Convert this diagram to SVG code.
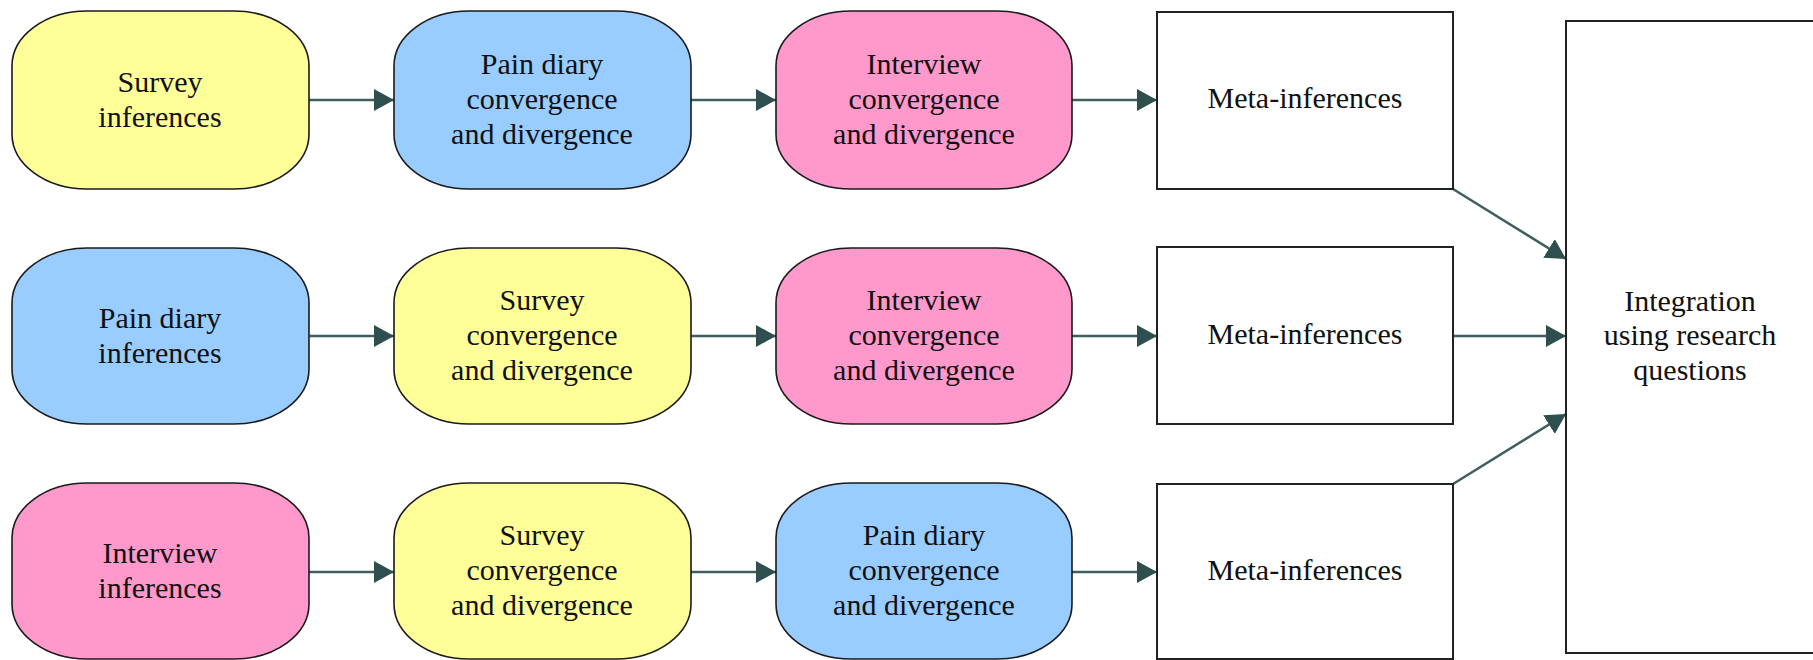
<svg xmlns="http://www.w3.org/2000/svg" width="1813" height="660" viewBox="0 0 1813 660">
<style>
  .rnd { stroke: #1a1a1a; stroke-width: 1.6; }
  .y { fill: #ffff99; }
  .b { fill: #99ccff; }
  .p { fill: #ff99cc; }
  .box { fill: #ffffff; stroke: #222222; stroke-width: 2; }
  .lbl { font-family: "Liberation Serif", "Times New Roman", serif; font-size: 30px; fill: #111111; text-anchor: middle; }
  .con { stroke: #3f5f5f; stroke-width: 2.5; fill: none; marker-end: url(#ah); }
</style>
<defs>
  <marker id="ah" markerUnits="userSpaceOnUse" markerWidth="20" markerHeight="22" refX="20" refY="11" orient="auto">
    <path d="M0,0 L20,11 L0,22 z" fill="#2f4f4f"/>
  </marker>
</defs>
<rect width="1813" height="660" fill="#ffffff"/>

<g id="connectors">
  <line class="con" x1="309" y1="100" x2="394" y2="100"/>
  <line class="con" x1="691" y1="100" x2="776" y2="100"/>
  <line class="con" x1="1072" y1="100" x2="1157" y2="100"/>
  <line class="con" x1="309" y1="336" x2="394" y2="336"/>
  <line class="con" x1="691" y1="336" x2="776" y2="336"/>
  <line class="con" x1="1072" y1="336" x2="1157" y2="336"/>
  <line class="con" x1="309" y1="572" x2="394" y2="572"/>
  <line class="con" x1="691" y1="572" x2="776" y2="572"/>
  <line class="con" x1="1072" y1="572" x2="1157" y2="572"/>
  <line class="con" x1="1453" y1="189" x2="1566" y2="259"/>
  <line class="con" x1="1453" y1="336" x2="1566" y2="336"/>
  <line class="con" x1="1453" y1="484" x2="1566" y2="414"/>
</g>

<g id="survey-inferences">
  <rect class="rnd y" x="12" y="11" width="297" height="178" rx="75" ry="55"/>
  <text class="lbl" x="160" y="92">Survey</text>
  <text class="lbl" x="160" y="127">inferences</text>
</g>
<g id="r1-paindiary">
  <rect class="rnd b" x="394" y="11" width="297" height="178" rx="75" ry="55"/>
  <text class="lbl" x="542" y="74">Pain diary</text>
  <text class="lbl" x="542" y="109">convergence</text>
  <text class="lbl" x="542" y="144">and divergence</text>
</g>
<g id="r1-interview">
  <rect class="rnd p" x="776" y="11" width="296" height="178" rx="75" ry="55"/>
  <text class="lbl" x="924" y="74">Interview</text>
  <text class="lbl" x="924" y="109">convergence</text>
  <text class="lbl" x="924" y="144">and divergence</text>
</g>
<g id="r1-meta">
  <rect class="box" x="1157" y="12" width="296" height="177"/>
  <text class="lbl" x="1305" y="108">Meta-inferences</text>
</g>

<g id="paindiary-inferences">
  <rect class="rnd b" x="12" y="248" width="297" height="176" rx="75" ry="55"/>
  <text class="lbl" x="160" y="328">Pain diary</text>
  <text class="lbl" x="160" y="363">inferences</text>
</g>
<g id="r2-survey">
  <rect class="rnd y" x="394" y="248" width="297" height="176" rx="75" ry="55"/>
  <text class="lbl" x="542" y="310">Survey</text>
  <text class="lbl" x="542" y="345">convergence</text>
  <text class="lbl" x="542" y="380">and divergence</text>
</g>
<g id="r2-interview">
  <rect class="rnd p" x="776" y="248" width="296" height="176" rx="75" ry="55"/>
  <text class="lbl" x="924" y="310">Interview</text>
  <text class="lbl" x="924" y="345">convergence</text>
  <text class="lbl" x="924" y="380">and divergence</text>
</g>
<g id="r2-meta">
  <rect class="box" x="1157" y="247" width="296" height="177"/>
  <text class="lbl" x="1305" y="344">Meta-inferences</text>
</g>

<g id="interview-inferences">
  <rect class="rnd p" x="12" y="483" width="297" height="176" rx="75" ry="55"/>
  <text class="lbl" x="160" y="563">Interview</text>
  <text class="lbl" x="160" y="598">inferences</text>
</g>
<g id="r3-survey">
  <rect class="rnd y" x="394" y="483" width="297" height="176" rx="75" ry="55"/>
  <text class="lbl" x="542" y="545">Survey</text>
  <text class="lbl" x="542" y="580">convergence</text>
  <text class="lbl" x="542" y="615">and divergence</text>
</g>
<g id="r3-paindiary">
  <rect class="rnd b" x="776" y="483" width="296" height="176" rx="75" ry="55"/>
  <text class="lbl" x="924" y="545">Pain diary</text>
  <text class="lbl" x="924" y="580">convergence</text>
  <text class="lbl" x="924" y="615">and divergence</text>
</g>
<g id="r3-meta">
  <rect class="box" x="1157" y="484" width="296" height="175"/>
  <text class="lbl" x="1305" y="580">Meta-inferences</text>
</g>

<g id="integration">
  <rect class="box" x="1566" y="21" width="270" height="632"/>
  <text class="lbl" x="1690" y="311">Integration</text>
  <text class="lbl" x="1690" y="345">using research</text>
  <text class="lbl" x="1690" y="380">questions</text>
</g>
</svg>
